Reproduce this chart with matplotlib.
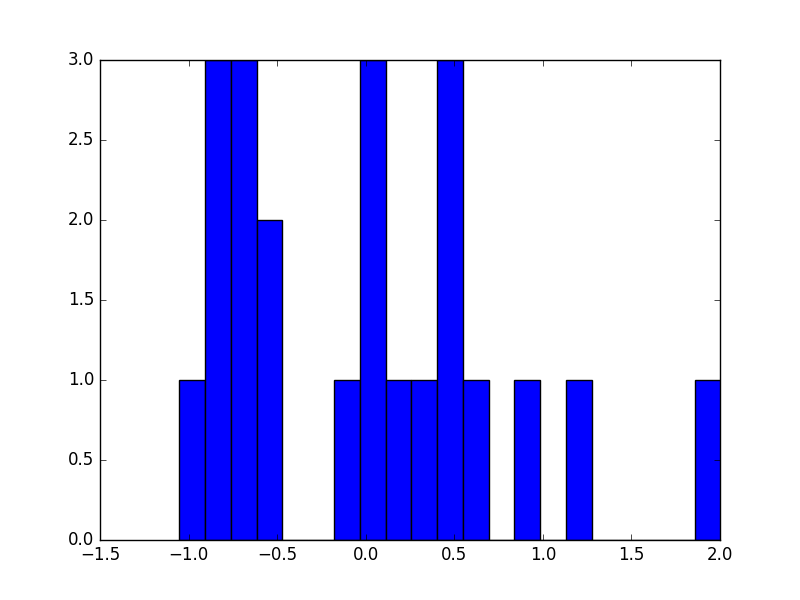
import matplotlib
matplotlib.use("Agg")
import matplotlib.pyplot as plt
import numpy as np

plt.style.use('classic')

bin_start = -1.053
bin_width = 0.1456
counts = [1, 3, 3, 2, 0, 0, 1, 3, 1, 1, 3, 1, 0, 1, 0, 1, 0, 0, 0, 0, 1]

edges = bin_start + bin_width * np.arange(len(counts) + 1)
centers = (edges[:-1] + edges[1:]) / 2

fig = plt.figure(figsize=(8, 6), dpi=100)
ax = fig.add_subplot(111)
ax.hist(centers, bins=edges, weights=counts, color='blue', edgecolor='black')
ax.set_xlim(-1.5, 2.0)
ax.set_ylim(0, 3.0)
fig.savefig('out.png', dpi=100)
